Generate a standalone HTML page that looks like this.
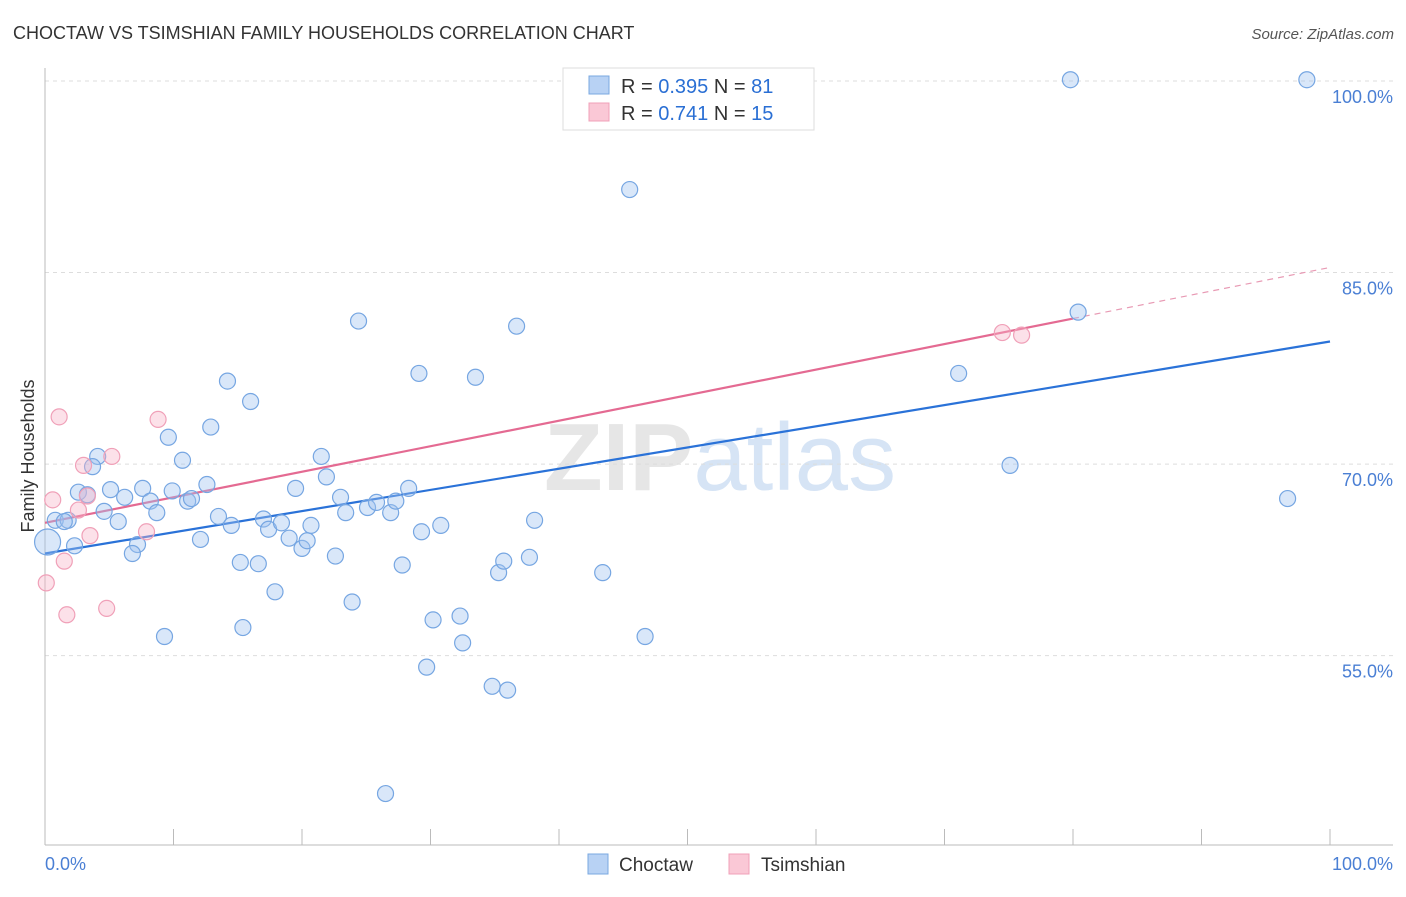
<!DOCTYPE html>
<html><head><meta charset="utf-8"><style>
body{margin:0;background:#fff;font-family:"Liberation Sans",sans-serif;}
svg text{font-family:"Liberation Sans",sans-serif;}
</style></head><body>
<svg id="chart" width="1406" height="892" xmlns="http://www.w3.org/2000/svg">
<text x="13" y="39" font-size="18" fill="#333">CHOCTAW VS TSIMSHIAN FAMILY HOUSEHOLDS CORRELATION CHART</text>
<text x="1394" y="39" font-size="15" fill="#555" font-style="italic" text-anchor="end">Source: ZipAtlas.com</text>
<text x="720" y="490" font-size="96" text-anchor="middle" fill="#e6e6e6" font-family="Liberation Serif,serif" font-weight="bold">ZIP<tspan fill="#d6e4f5" font-family="Liberation Sans,sans-serif" font-weight="normal">atlas</tspan></text>
<g id="grid"></g>
<g id="axes"></g>
<g id="lines"></g>
<g id="points"></g>
<text transform="translate(34,456) rotate(-90)" font-size="18" fill="#333" text-anchor="middle">Family Households</text>
<text x="45" y="870" font-size="18" fill="#4a7fd4">0.0%</text>
<text x="1393" y="870" font-size="18" fill="#4a7fd4" text-anchor="end">100.0%</text>
<g>
<rect x="563" y="68" width="251" height="62" fill="#fff" stroke="#ddd"/>
<rect x="589" y="76" width="20" height="18" fill="#b8d2f4" stroke="#7aa8e0"/>
<rect x="589" y="103" width="20" height="18" fill="#fac8d6" stroke="#f0a0b8"/>
<text x="621" y="93" font-size="20" fill="#333">R = <tspan fill="#2a6fd4">0.395</tspan>   N = <tspan fill="#2a6fd4">81</tspan></text>
<text x="621" y="120" font-size="20" fill="#333">R =  <tspan fill="#2a6fd4">0.741</tspan>   N = <tspan fill="#2a6fd4">15</tspan></text>
</g>
<g>
<rect x="588" y="854" width="20" height="20" fill="#b8d2f4" stroke="#7aa8e0"/>
<text x="619" y="871" font-size="19" fill="#333">Choctaw</text>
<rect x="729" y="854" width="20" height="20" fill="#fac8d6" stroke="#f0a0b8"/>
<text x="761" y="871" font-size="19" fill="#333">Tsimshian</text>
</g>
</svg>
<script>
const yTicks=[100,85,70,55];
const yTickLabels=["100.0%","85.0%","70.0%","55.0%"];
const choctawX=[79.8,98.2,45.5,80.4,24.4,36.7,29.1,33.5,71.1,14.2,16.0,9.6,12.9,10.7,21.5,75.1,4.1,3.7,2.6,3.3,5.1,6.2,7.6,8.2,9.9,11.1,11.4,12.6,8.7,4.6,5.7,0.8,1.8,1.5,2.3,7.2,6.8,12.1,13.5,14.5,17.0,17.4,18.4,19.0,20.0,20.4,20.7,19.5,21.9,23.0,23.4,25.1,25.8,26.9,27.3,28.3,29.3,30.8,38.1,96.7,15.2,16.6,22.6,27.8,35.3,35.7,37.7,43.4,17.9,23.9,30.2,32.3,15.4,9.3,32.5,46.7,29.7,34.8,36.0,26.5,0.2];
const choctawY=[100.1,100.1,91.5,81.9,81.2,80.8,77.1,76.8,77.1,76.5,74.9,72.1,72.9,70.3,70.6,69.9,70.6,69.8,67.8,67.6,68.0,67.4,68.1,67.1,67.9,67.1,67.3,68.4,66.2,66.3,65.5,65.6,65.6,65.5,63.6,63.7,63.0,64.1,65.9,65.2,65.7,64.9,65.4,64.2,63.4,64.0,65.2,68.1,69.0,67.4,66.2,66.6,67.0,66.2,67.1,68.1,64.7,65.2,65.6,67.3,62.3,62.2,62.8,62.1,61.5,62.4,62.7,61.5,60.0,59.2,57.8,58.1,57.2,56.5,56.0,56.5,54.1,52.6,52.3,44.2,63.9];
const tsimX=[1.1,8.8,3.0,5.2,3.3,2.6,0.6,3.5,7.9,1.5,0.1,1.7,4.8,74.5,76.0];
const tsimY=[73.7,73.5,69.9,70.6,67.5,66.4,67.2,64.4,64.7,62.4,60.7,58.2,58.7,80.3,80.1];
const choctawLine=[63.0,79.6];
const tsimLine=[65.4,85.4];
const tsimSolidEnd=80;
const NS="http://www.w3.org/2000/svg";
const xs=v=>45+v*12.85;
const ys=v=>81+(100-v)*12.77;
function mk(tag,attrs,parent){const e=document.createElementNS(NS,tag);for(const k in attrs)e.setAttribute(k,attrs[k]);document.getElementById(parent).appendChild(e);return e;}
yTicks.forEach((t,i)=>{
 const l=mk('line',{x1:45,x2:1393,y1:ys(t),y2:ys(t),stroke:'#ddd','stroke-dasharray':'4,4'},'grid');
 
 
 const tx=mk('text',{x:1393,y:ys(t)+22,'font-size':18,fill:'#4a7fd4','text-anchor':'end'},'grid');
 tx.textContent=yTickLabels[i];
 
 
});
const ax=mk('line',{x1:45,x2:45,y1:68,y2:845,stroke:'#bbb'},'axes');


const bx=mk('line',{x1:45,x2:1393,y1:845,y2:845,stroke:'#bbb'},'axes');


for(let i=0;i<=10;i++){
 const t=mk('line',{x1:xs(i*10),x2:xs(i*10),y1:829,y2:845,stroke:'#bbb'},'axes');
 
 
}
const bl=mk('line',{x1:xs(0),y1:ys(choctawLine[0]),x2:xs(100),y2:ys(choctawLine[1]),stroke:'#2a72d8','stroke-width':2.2},'lines');


const pAt=x=>tsimLine[0]+(tsimLine[1]-tsimLine[0])*x/100;
const pl=mk('line',{x1:xs(0),y1:ys(pAt(0)),x2:xs(tsimSolidEnd),y2:ys(pAt(tsimSolidEnd)),stroke:'#e46a92','stroke-width':2.2},'lines');


const pd=mk('line',{x1:xs(tsimSolidEnd),y1:ys(pAt(tsimSolidEnd)),x2:xs(100),y2:ys(pAt(100)),stroke:'#e89ab4','stroke-width':1.2,'stroke-dasharray':'6,5'},'lines');


choctawX.forEach((x,i)=>{
 const c=mk('circle',{cx:xs(x),cy:ys(choctawY[i]),r:i===choctawX.length-1?13:8,fill:'rgba(160,196,240,0.4)',stroke:'#76a6e2','stroke-width':1.2},'points');
 
 
});
tsimX.forEach((x,i)=>{
 const c=mk('circle',{cx:xs(x),cy:ys(tsimY[i]),r:8,fill:'rgba(248,180,200,0.4)',stroke:'#f0a0b8','stroke-width':1.2},'points');
 
 
});
</script>
</body></html>
